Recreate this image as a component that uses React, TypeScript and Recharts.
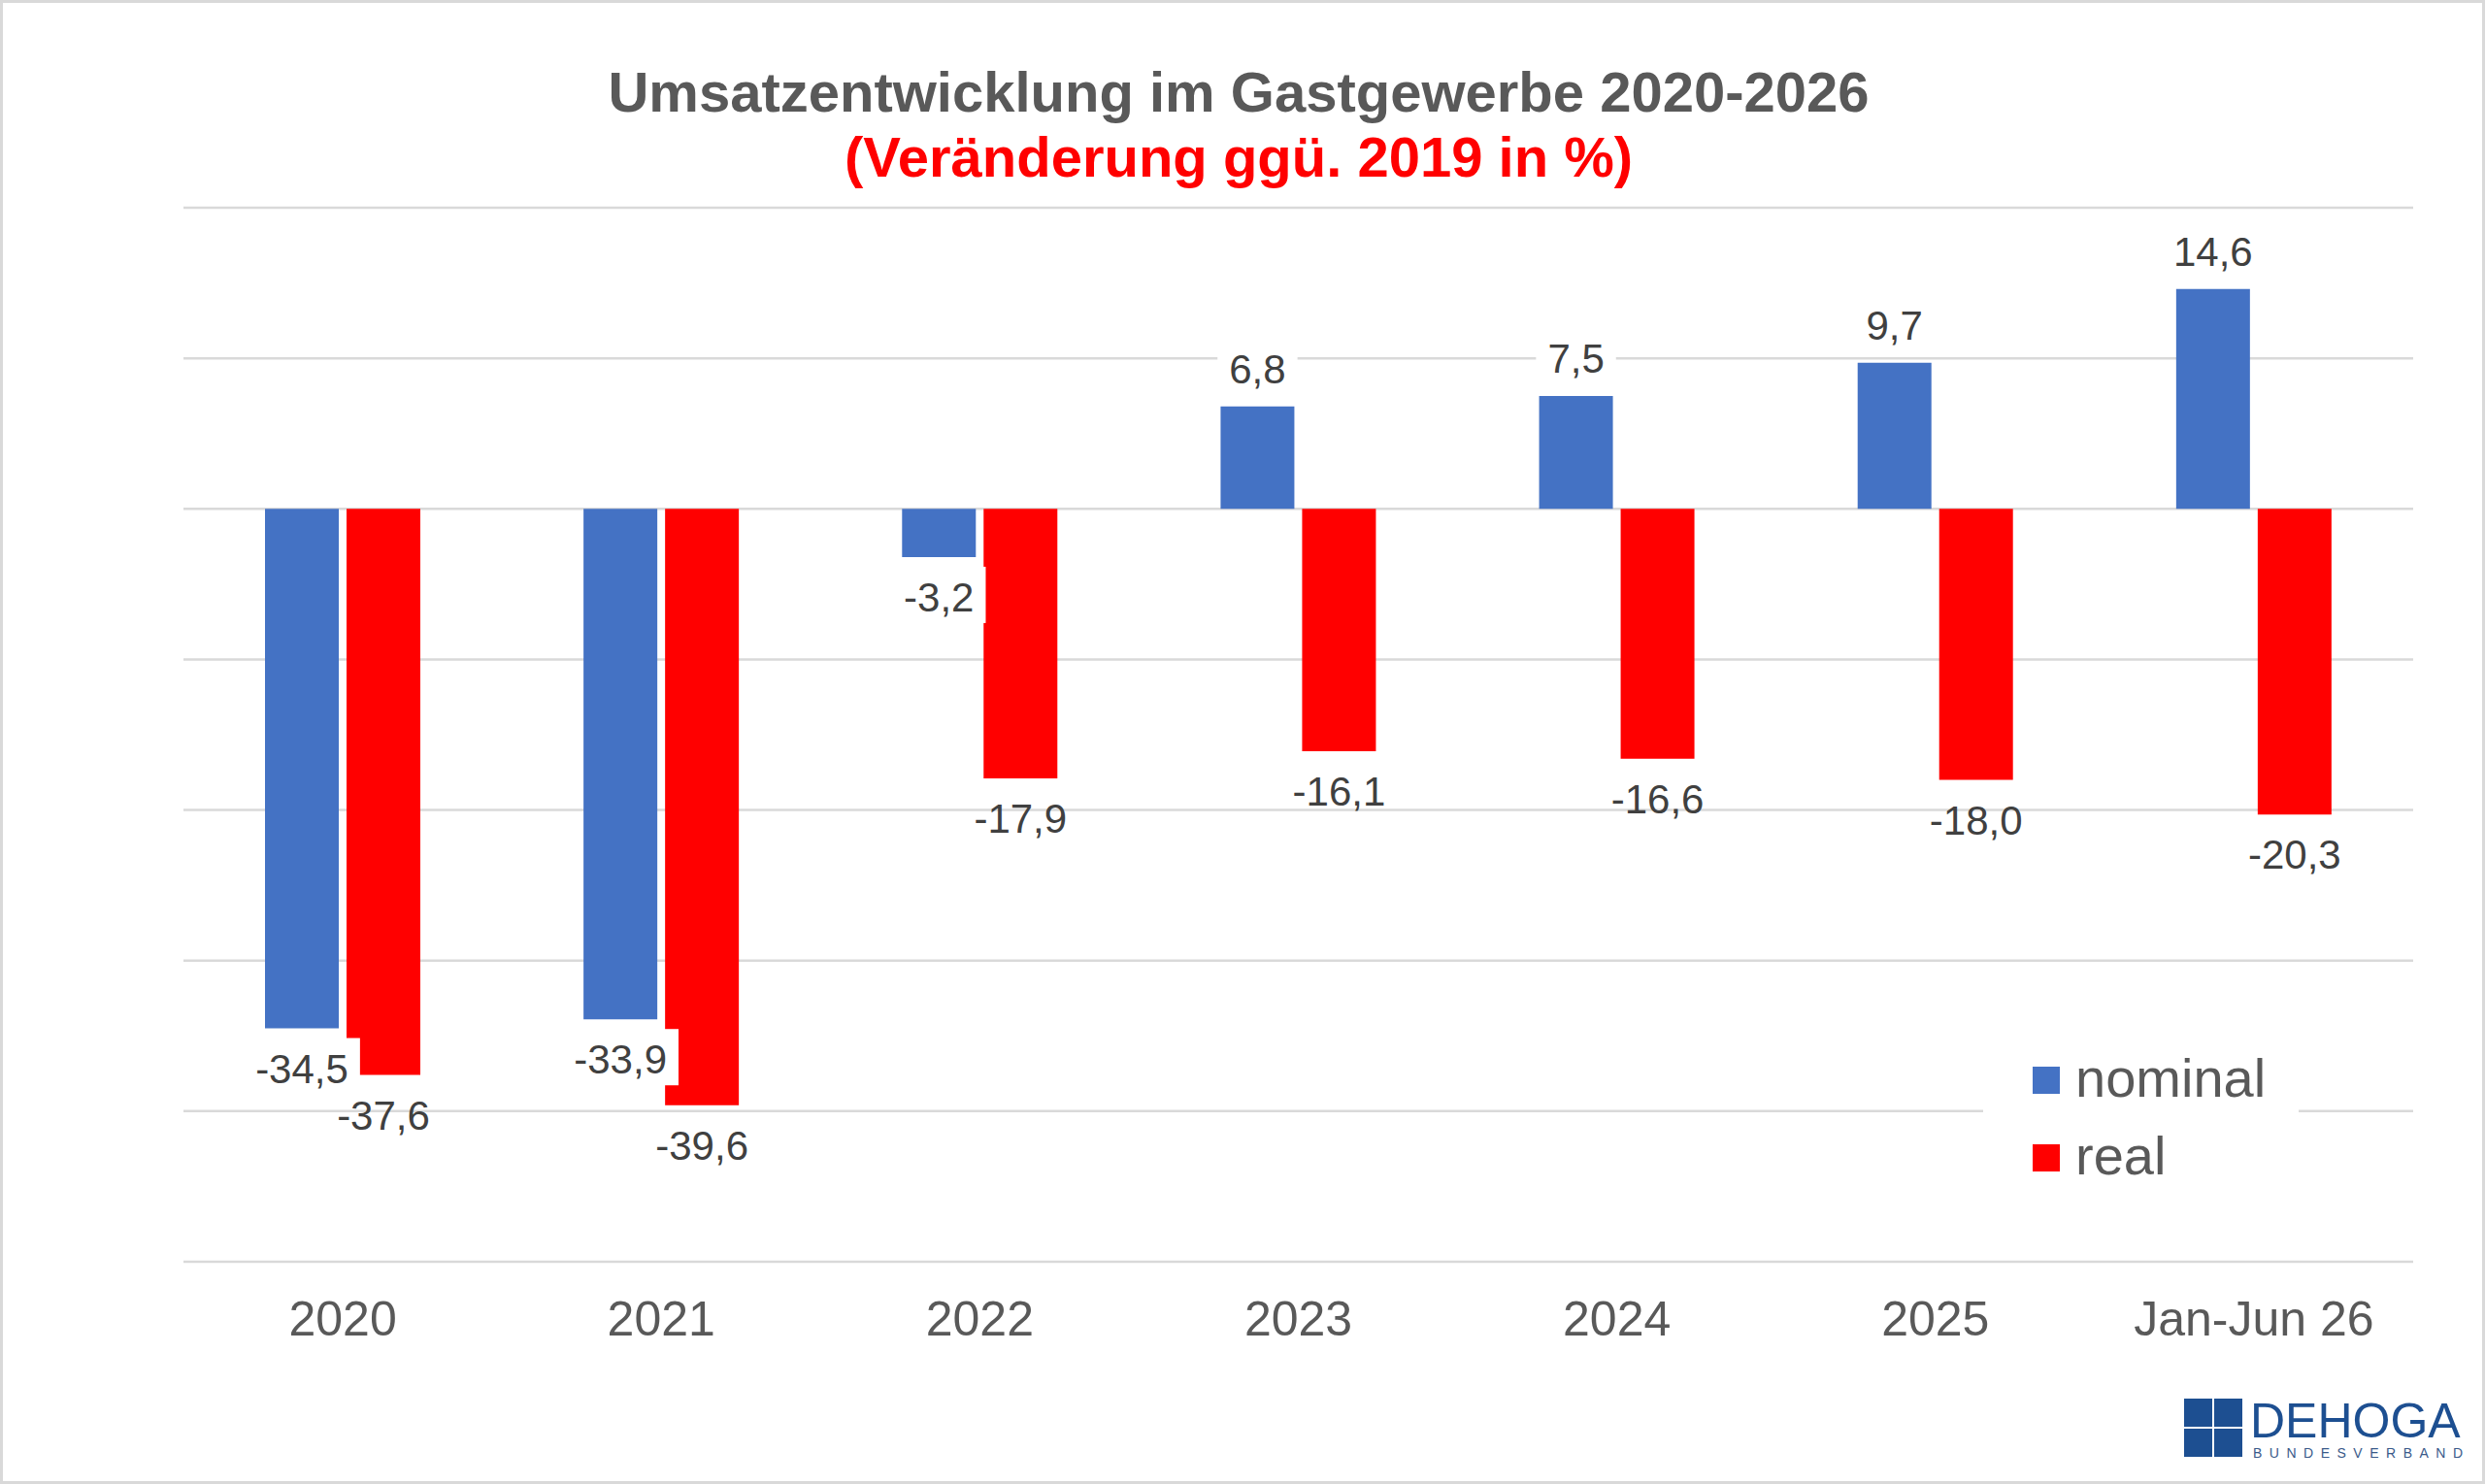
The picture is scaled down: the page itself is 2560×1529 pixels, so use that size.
import { BarChart, Bar, XAxis, YAxis, CartesianGrid, Legend, LabelList } from "recharts";

const categories = ["2020", "2021", "2022", "2023", "2024", "2025", "Jan-Jun 26"];
const nominal = [-34.5, -33.9, -3.2, 6.8, 7.5, 9.7, 14.6];
const real = [-37.6, -39.6, -17.9, -16.1, -16.6, -18.0, -20.3];
const yTicks = [-50, -40, -30, -20, -10, 0, 10, 20];

const data = categories.map((c, i) => ({ name: c, nominal: nominal[i], real: real[i] }));

const FONT = "'Liberation Sans', Arial, Helvetica, sans-serif";
const W = 2560;
const H = 1529;

// rough Arial advance widths (em) for the label glyphs
const charW: Record<string, number> = { "-": 0.333, ",": 0.278 };
const textWidth = (s: string) => s.split("").reduce((a, ch) => a + (charW[ch] ?? 0.556), 0);

function ValueLabel(props: any) {
  const { x, y, width, height, value, boxed } = props;
  const v = Number(value);
  const top = Math.min(y, y + height);
  const bottom = Math.max(y, y + height);
  const cx = x + width / 2;
  const text = v.toFixed(1).replace(".", ",");
  const fs = 42;
  const w = textWidth(text) * fs;
  const baseline = v < 0 ? bottom + 56 : top - 24;
  return (
    <g>
      {boxed && <rect x={cx - w / 2 - 12} y={baseline - 46} width={w + 24} height={58} fill="#ffffff" />}
      <text x={cx} y={baseline} textAnchor="middle" fontSize={fs} fill="#404040" fontFamily={FONT}>
        {text}
      </text>
    </g>
  );
}

function LegendBox(props: any) {
  const { payload } = props;
  return (
    <div style={{ background: "#fff", width: 325, height: 200, paddingTop: 21, paddingLeft: 51, boxSizing: "border-box" }}>
      {(payload || []).map((entry: any) => (
        <div key={entry.value} style={{ display: "flex", alignItems: "center", height: 80 }}>
          <span style={{ display: "inline-block", width: 28, height: 28, background: entry.color, marginRight: 16, marginTop: 4 }} />
          <span style={{ fontSize: 56, color: "#595959", fontFamily: FONT, lineHeight: "80px" }}>{entry.value}</span>
        </div>
      ))}
    </div>
  );
}

export default function App() {
  return (
    <div style={{ position: "absolute", left: 0, top: 0, width: W, height: H, background: "#fff", fontFamily: FONT }}>
      <div style={{ position: "absolute", left: 0, top: 66, width: W - 8, textAlign: "center", fontSize: 58, lineHeight: 1, fontWeight: "bold", color: "#595959" }}>
        Umsatzentwicklung im Gastgewerbe 2020-2026
      </div>
      <div style={{ position: "absolute", left: 0, top: 133, width: W - 8, textAlign: "center", fontSize: 58, lineHeight: 1, fontWeight: "bold", color: "#ff0000" }}>
        (Veränderung ggü. 2019 in %)
      </div>

      <div style={{ position: "absolute", left: 0, top: 0 }}>
        <BarChart
          width={W}
          height={H}
          data={data}
          margin={{ top: 214, right: 74, bottom: 129, left: 189 }}
          barSize={76}
          barGap={8}
        >
          <CartesianGrid vertical={false} horizontalValues={yTicks} stroke="#d9d9d9" strokeWidth={2.5} />
          <XAxis
            dataKey="name"
            axisLine={false}
            tickLine={false}
            tickSize={0}
            tickMargin={40}
            height={100}
            interval={0}
            tick={{ fontSize: 50, fill: "#595959", fontFamily: FONT }}
          />
          <YAxis
            type="number"
            domain={[-50, 20]}
            ticks={yTicks}
            interval={0}
            width={0}
            tick={{ fontSize: 1, fill: "transparent" }}
            axisLine={false}
            tickLine={false}
          />
          <Legend
            layout="vertical"
            align="center"
            verticalAlign="middle"
            content={<LegendBox />}
            wrapperStyle={{ left: 2043, top: 1050, width: 325, height: 200 }}
          />
          <Bar dataKey="nominal" name="nominal" fill="#4472c4" isAnimationActive={false}>
            <LabelList dataKey="nominal" content={<ValueLabel boxed />} />
          </Bar>
          <Bar dataKey="real" name="real" fill="#ff0000" isAnimationActive={false}>
            <LabelList dataKey="real" content={<ValueLabel />} />
          </Bar>
        </BarChart>
      </div>

      {/* logo */}
      <div style={{ position: "absolute", left: 2250, top: 1441, width: 60, height: 61, display: "grid", gridTemplateColumns: "29px 29px", gridTemplateRows: "29px 29px", gap: 2 }}>
        <div style={{ background: "#1d4f91" }} />
        <div style={{ background: "#1d4f91" }} />
        <div style={{ background: "#1d4f91" }} />
        <div style={{ background: "#1d4f91" }} />
      </div>
      <div style={{ position: "absolute", left: 2318, top: 1439, fontSize: 50, lineHeight: 1, color: "#1d4f91" }}>DEHOGA</div>
      <div style={{ position: "absolute", left: 2321, top: 1490, fontSize: 14, lineHeight: 1, color: "#3a5a8a", letterSpacing: 7.5 }}>
        BUNDESVERBAND
      </div>

      <div style={{ position: "absolute", left: 0, top: 0, width: W, height: H, border: "3px solid #d9d9d9", boxSizing: "border-box", pointerEvents: "none" }} />
    </div>
  );
}
